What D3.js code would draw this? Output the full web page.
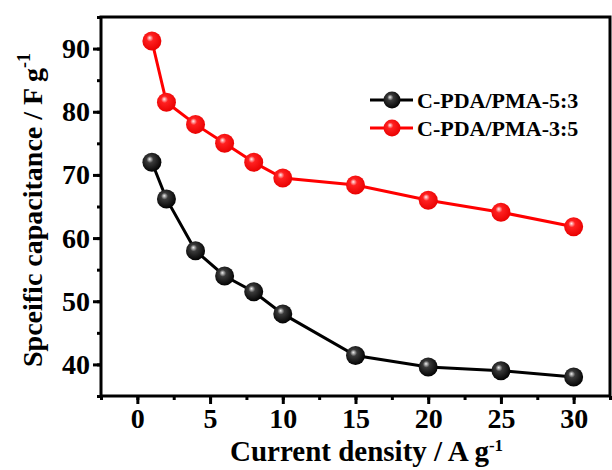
<!DOCTYPE html>
<html><head><meta charset="utf-8">
<script src="https://cdn.jsdelivr.net/npm/d3@7"></script>
<style>body{margin:0;background:#fff}svg{display:block}text{font-family:"Liberation Serif","Times New Roman",serif;font-weight:bold}</style>
</head><body><svg id="c" width="612" height="470"></svg>
<script>
const currentDensity = [1, 2, 4, 6, 8, 10, 15, 20, 25, 30];
const series53 = [72, 66.2, 58, 54, 51.5, 48, 41.4, 39.6, 39, 38];
const series35 = [91.2, 81.5, 78, 75, 72, 69.5, 68.4, 66, 64.1, 61.8];
const seriesNames = ["C-PDA/PMA-5:3", "C-PDA/PMA-3:5"];
const seriesColors = ["#000000", "#ff0000"];
const xTicks = [0, 5, 10, 15, 20, 25, 30];
const yTicks = [40, 50, 60, 70, 80, 90];

const svg = d3.select("#c");
const L = 101, R = 610, T = 17, B = 396;
const x = d3.scaleLinear().domain([-2.5, 32.5]).range([L, R]);
const y = d3.scaleLinear().domain([35, 95]).range([B, T]);

const defs = svg.append("defs");
function grad(id, hi, mid, dark) {
  const g = defs.append("radialGradient").attr("id", id).attr("cx", "0.45").attr("cy", "0.42").attr("r", "0.6").attr("fx", "0.38").attr("fy", "0.33");
  g.append("stop").attr("offset", "0").attr("stop-color", hi);
  g.append("stop").attr("offset", "0.3").attr("stop-color", mid);
  g.append("stop").attr("offset", "1").attr("stop-color", dark);
}
grad("gBlack", "#f0f0f0", "#3a3a3a", "#000");
grad("gRed", "#fff0f0", "#ff2020", "#e80000");
const grads = ["url(#gBlack)", "url(#gRed)"];

// axes
const xAxis = d3.axisBottom(x).tickValues(xTicks).tickSize(8).tickPadding(4);
const xMinor = d3.axisBottom(x).tickValues(d3.range(-2.5, 33, 2.5)).tickSize(4).tickFormat("");
const yAxis = d3.axisLeft(y).tickValues(yTicks).tickSize(8).tickPadding(3);
const yMinor = d3.axisLeft(y).tickValues(d3.range(35, 96, 5)).tickSize(4).tickFormat("");

function style(g) {
  g.selectAll("path").attr("stroke", "none");
  g.selectAll("line").attr("stroke", "#000").attr("stroke-width", 3);
  g.selectAll("text").attr("font-size", 28).attr("fill", "#000");
}
svg.append("g").attr("transform", `translate(0,${B})`).call(xMinor).call(style);
svg.append("g").attr("transform", `translate(0,${B})`).call(xAxis).call(style);
svg.append("g").attr("transform", `translate(${L},0)`).call(yMinor).call(style);
svg.append("g").attr("transform", `translate(${L},0)`).call(yAxis).call(style);

svg.append("rect").attr("x", L).attr("y", T).attr("width", R - L).attr("height", B - T)
  .attr("fill", "none").attr("stroke", "#000").attr("stroke-width", 3);

// data
const allSeries = [series53, series35];
const line = d3.line().x((d, i) => x(currentDensity[i])).y(d => y(d));
allSeries.forEach((s, k) => {
  svg.append("path").datum(s).attr("d", line).attr("fill", "none").attr("stroke", seriesColors[k]).attr("stroke-width", 3);
  svg.append("g").selectAll("circle").data(s).join("circle")
    .attr("cx", (d, i) => x(currentDensity[i])).attr("cy", d => y(d)).attr("r", 9.5)
    .attr("fill", grads[k]);
});

// legend
const legY = [100, 128];
seriesNames.forEach((n, k) => {
  const g = svg.append("g");
  g.append("line").attr("x1", 370).attr("x2", 413).attr("y1", legY[k]).attr("y2", legY[k]).attr("stroke", seriesColors[k]).attr("stroke-width", 3);
  g.append("circle").attr("cx", 392).attr("cy", legY[k]).attr("r", 8.5).attr("fill", grads[k]);
  g.append("text").attr("x", 417).attr("y", legY[k] + 8).attr("font-size", 22).text(n);
});

// axis titles
const xt = svg.append("text").attr("x", 230).attr("y", 461).attr("font-size", 29);
xt.append("tspan").text("Current density / A g");
xt.append("tspan").attr("dy", -10).attr("font-size", 17).text("-1");

const yt = svg.append("text").attr("transform", "translate(42,367) rotate(-90)").attr("font-size", 28);
yt.append("tspan").text("Spceific capacitance / F g");
yt.append("tspan").attr("dy", -12).attr("font-size", 18).text("-1");
</script></body></html>
